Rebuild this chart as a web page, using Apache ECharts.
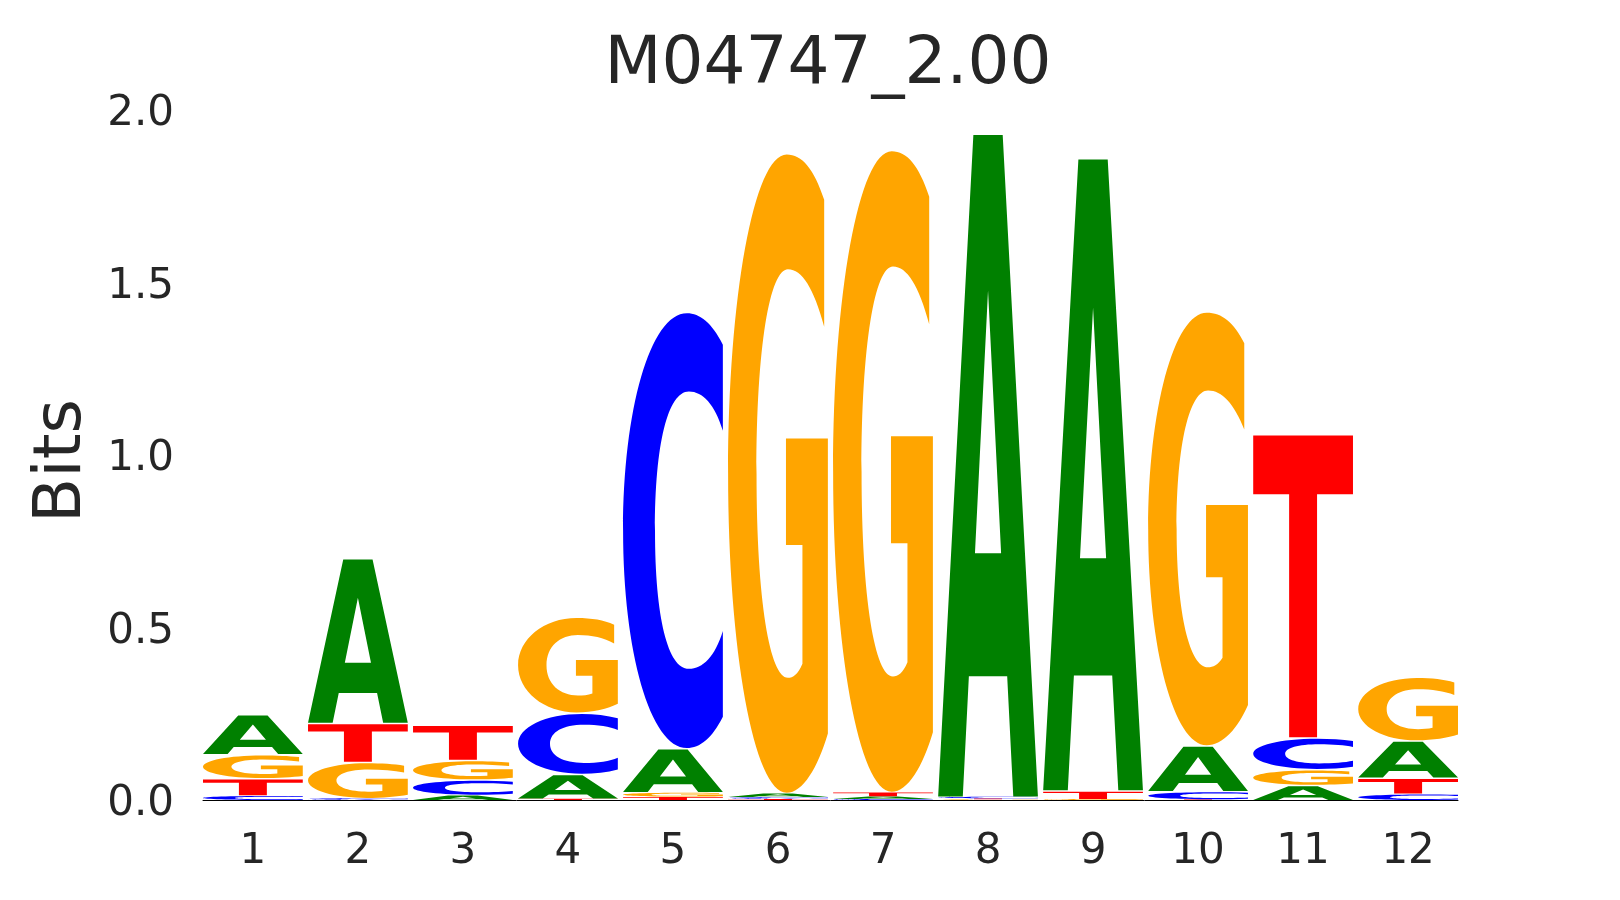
<!DOCTYPE html>
<html>
<head>
<meta charset="utf-8">
<script src="https://cdn.jsdelivr.net/npm/echarts@6.0.0/dist/echarts.min.js"></script>
<style>
html,body{margin:0;padding:0;background:#fff;}
#chart{width:1620px;height:900px;}
</style>
</head>
<body>
<div id="chart"></div>
<script>
// ---- data (bits per letter at each position) ----
const positions = [1, 2, 3, 4, 5, 6, 7, 8, 9, 10, 11, 12];
const letters = ['A', 'C', 'G', 'T'];
const bitsA = [0.116, 0.478, 0.015, 0.072, 0.128, 0.012, 0.008, 1.923, 1.834, 0.133, 0.044, 0.108];
const bitsC = [0.0135, 0.006, 0.045, 0.178, 1.265, 0.006, 0.003, 0.005, 0.0, 0.024, 0.092, 0.019];
const bitsG = [0.070, 0.105, 0.057, 0.278, 0.013, 1.856, 1.862, 0.002, 0.003, 1.259, 0.046, 0.185];
const bitsT = [0.050, 0.113, 0.102, 0.004, 0.010, 0.003, 0.013, 0.003, 0.025, 0.002, 0.880, 0.046];
const yTicks = [0, 0.5, 1.0, 1.5, 2.0];
const titleText = 'M04747_2.00';
const yName = 'Bits';

// ---- glyph outlines (unit box, stretched to each letter's cell) ----
const GLYPHS = {
  A: 'M0 100 L35.3 0 L64.7 0 L100 100 L75.3 100 L69.2 81.8 L30.8 81.8 L24.7 100 Z M36.9 63.2 L63.1 63.2 L50 23.5 Z',
  C: 'M100 7.2 C89 2.2 77 0 64 0 C27 0 0 22.4 0 50 C0 77.6 27 100 64 100 C77 100 89 97.8 100 92.8 L100 73.1 C92 79 80 81.8 66 81.8 C45 81.8 32 70 32 50 C32 30 45 18 66 18 C80 18 92 21 100 27 Z',
  G: 'M96.3 7.1 C86 2.2 74 0 58.7 0 C26 0 0 22.4 0 50 C0 77.6 26 100 58.7 100 C75 100 90 96 100 90.7 L100 44.5 L58 44.5 L58 61.2 L74.5 61.2 L74.5 79.8 C70 81.5 65 82 60 82 C42 82 28.5 70 28.5 50 C28.5 30 42 18 60 18 C74 18 86 21 96.3 27 Z',
  T: 'M0 0 L100 0 L100 19.5 L64 19.5 L64 100 L36 100 L36 19.5 L0 19.5 Z'
};
const COLORS = { A: '#008000', C: '#0000ff', G: '#ffa500', T: '#ff0000' };
const HALF = 0.475;

// ---- build stacked cells: smallest at bottom ----
const valuesByLetter = { A: bitsA, C: bitsC, G: bitsG, T: bitsT };
const cells = [];
positions.forEach((p, i) => {
  const arr = letters.map((L, li) => ({ L, li, v: valuesByLetter[L][i] }))
    .filter(d => d.v > 0)
    .sort((a, b) => a.v - b.v);
  let base = 0;
  arr.forEach(d => {
    cells.push([p, base, base + d.v, d.li]);
    base += d.v;
  });
});

const chart = echarts.init(document.getElementById('chart'), null, { renderer: 'canvas' });
const FONT = '"DejaVu Sans", "Liberation Sans", sans-serif';
const TXT = '#262626';

chart.setOption({
  backgroundColor: '#ffffff',
  animation: false,
  grid: { left: 203, right: 162, top: 110.5, bottom: 100, containLabel: false },
  xAxis: {
    type: 'value',
    min: 0.5 + (0.5 - HALF),
    max: 12.5 - (0.5 - HALF),
    axisLine: { show: true, onZero: false, lineStyle: { color: '#000000', width: 1 } },
    axisTick: { show: false },
    splitLine: { show: false },
    axisLabel: {
      customValues: positions,
      formatter: v => String(Math.round(v)),
      color: TXT, fontSize: 42, fontFamily: FONT, margin: 31
    }
  },
  yAxis: {
    type: 'value',
    min: 0, max: 2.0, interval: 0.5,
    axisLine: { show: false },
    axisTick: { show: false },
    splitLine: { show: false },
    axisLabel: {
      formatter: v => '{t|' + v.toFixed(1) + '}',
      color: TXT, fontSize: 42, fontFamily: FONT, margin: 29,
      rich: { t: { color: TXT, fontSize: 42, fontFamily: FONT, padding: [8, 0, 0, 0] } }
    }
  },
  graphic: [
    { type: 'text', x: 828, y: 66, style: { text: titleText, font: '66px ' + FONT, fill: TXT, textAlign: 'center', textVerticalAlign: 'middle' } },
    { type: 'text', x: 63, y: 461, rotation: Math.PI / 2, style: { text: yName, font: '66px ' + FONT, fill: TXT, textAlign: 'center', textVerticalAlign: 'middle' } }
  ],
  series: [{
    type: 'custom',
    data: cells,
    encode: { x: 0, y: [1, 2] },
    renderItem: function (params, api) {
      const x = api.value(0), y0 = api.value(1), y1 = api.value(2), li = api.value(3);
      const L = letters[li];
      const pb = api.coord([x - HALF, y0]);
      const pt = api.coord([x + HALF, y1]);
      let h = pb[1] - pt[1];
      const gap = Math.min(1.5, h * 0.15);
      h = Math.max(h - gap, 0.6);
      return {
        type: 'path',
        shape: { pathData: GLYPHS[L], x: pb[0], y: pt[1] + gap, width: pt[0] - pb[0], height: h, layout: 'cover' },
        style: { fill: COLORS[L] }
      };
    }
  }]
});
</script>
</body>
</html>
